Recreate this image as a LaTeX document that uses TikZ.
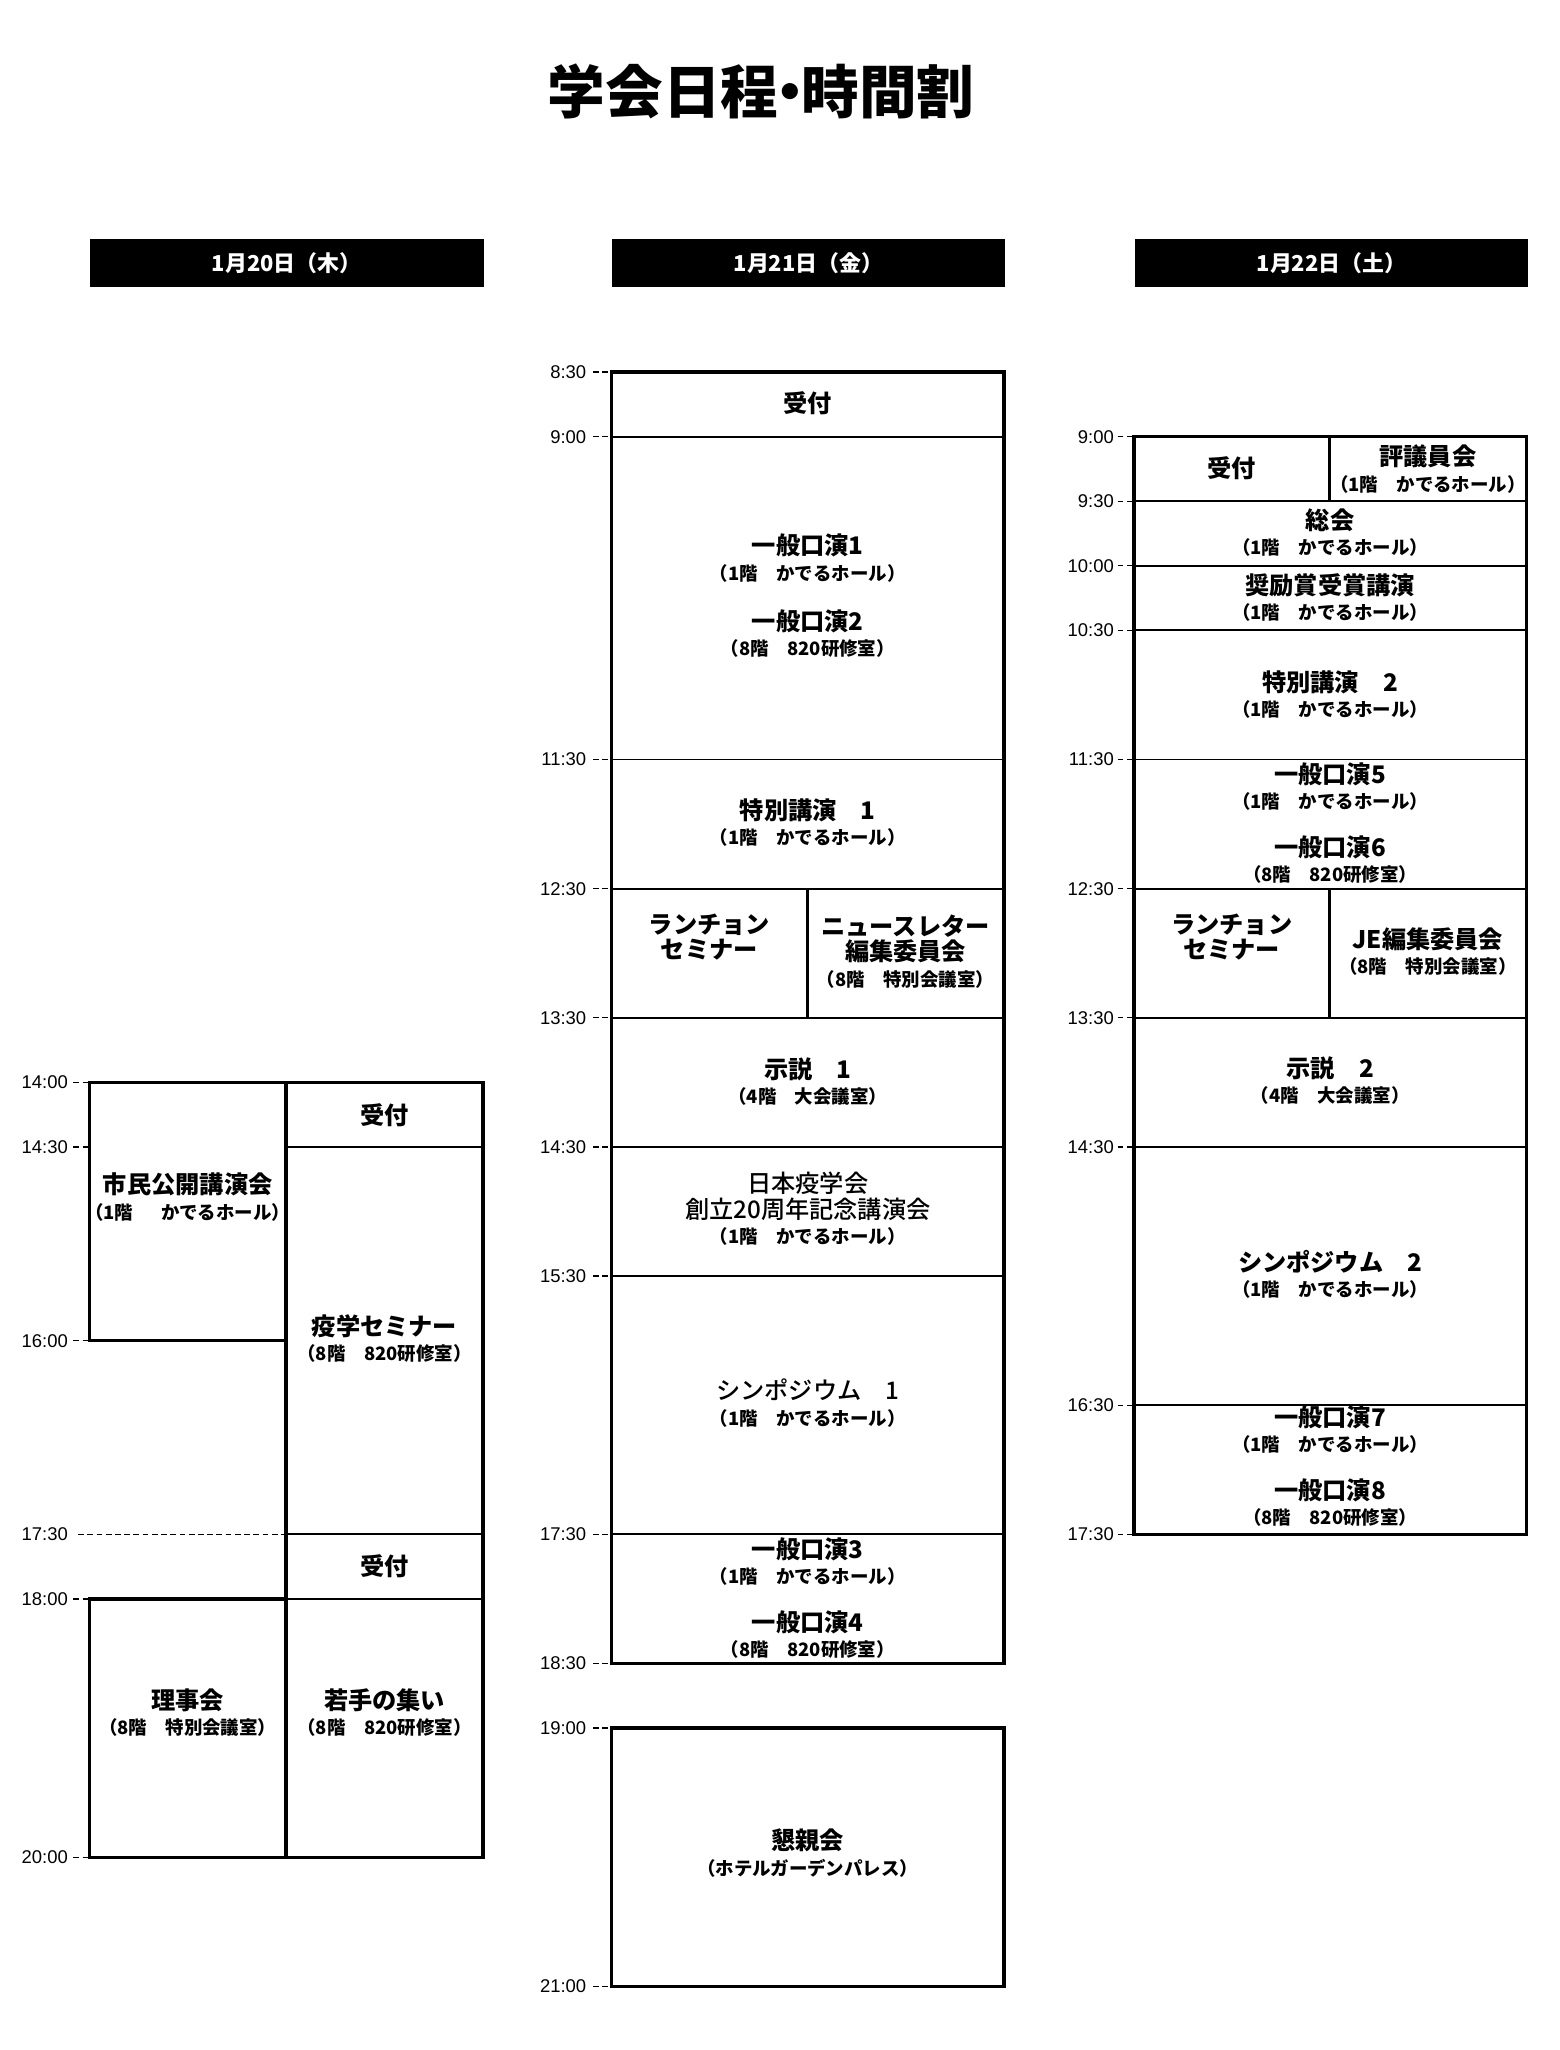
\documentclass[tikz,border=0pt]{standalone}
\usepackage{fontspec}
\setmainfont{Noto Sans CJK JP}
\newfontfamily\jpmed{Noto Sans CJK JP Medium}
\newfontfamily\timefont{Liberation Sans}
\usepackage{tikz}
\usetikzlibrary{positioning}

\pgfmathdeclarefunction{ty}{1}{\pgfmathparse{283.5+(#1-8.5)*98.4}}
\newcommand{\roomtxt}[1]{{\fontsize{8}{11}\selectfont #1}}

\tikzset{
  outer/.style={line width=1.4pt},
  cell/.style={line width=0.85pt},
  ev/.style={align=center, inner sep=0pt, font=\bfseries\fontsize{10.5}{11}\selectfont},
  dayhead/.style={fill=black, text=white, minimum width=60mm, minimum height=7.4mm, inner sep=0pt, font=\bfseries\fontsize{9.5}{10}\selectfont},
  tlabel/.style={anchor=east, inner sep=0pt, font=\timefont\fontsize{8}{9}\selectfont},
  tmdash/.style={dash pattern=on 2.5pt off 1.5pt, line width=0.6pt}
}

\begin{document}
\begin{tikzpicture}[x=0.2mm,y=-0.2mm]
  \useasboundingbox (0,0) rectangle (1188,1562);

  % title and days
  \node[font=\bfseries\fontsize{25}{27}\selectfont] (title) at (580,70) {学会日程\hspace{-0.3em}・\hspace{-0.3em}時間割};
  \node[dayhead] (day20) at (218.5,200.5) {1月20日（木）};
  \node[dayhead] (day21) at (616,200.5) {1月21日（金）};
  \node[dayhead] (day22) at (1014.5,200.5) {1月22日（土）};

  % time scales
  \foreach \t/\s [count=\i] in {14/14:00,14.5/14:30,16/16:00,18/18:00,20/20:00}{
    \node[tlabel] (lt\i) at (52,{ty(\t)}) {\s};
    \draw[tmdash] ([xshift=0.8mm]lt\i.east) -- (68,{ty(\t)});
  }
  \node[tlabel] (lt6) at (52,{ty(17.5)}) {17:30};
  \draw[tmdash] ([xshift=1.5mm]lt6.east) -- (218,{ty(17.5)});
  \foreach \t/\s [count=\i] in {8.5/8:30,9/9:00,11.5/11:30,12.5/12:30,13.5/13:30,14.5/14:30,15.5/15:30,17.5/17:30,18.5/18:30,19/19:00,21/21:00}{
    \node[tlabel] (mt\i) at (447,{ty(\t)}) {\s};
    \draw[tmdash] ([xshift=1mm]mt\i.east) -- (466,{ty(\t)});
  }
  \foreach \t/\s [count=\i] in {9/9:00,9.5/9:30,10/10:00,10.5/10:30,11.5/11:30,12.5/12:30,13.5/13:30,14.5/14:30,16.5/16:30,17.5/17:30}{
    \node[tlabel] (rt\i) at (849,{ty(\t)}) {\s};
    \draw[tmdash] ([xshift=0.5mm]rt\i.east) -- (864,{ty(\t)});
  }

  % 1/20
  \foreach \t in {14.5,17.5,18}
    \draw[cell] (218,{ty(\t)}) -- (368,{ty(\t)});
  \draw[outer] (68,{ty(14)}) rectangle (218,{ty(16)});
  \draw[outer] (218,{ty(14)}) rectangle (368,{ty(20)});
  \draw[outer] (68,{ty(18)}) rectangle (218,{ty(20)});

  % 1/21
  \foreach \t in {9,11.5,12.5,13.5,14.5,15.5,17.5}
    \draw[cell] (466,{ty(\t)}) -- (765,{ty(\t)});
  \draw[outer] (615,{ty(12.5)}) -- (615,{ty(13.5)});
  \draw[outer] (466,{ty(8.5)}) rectangle (765,{ty(18.5)});
  \draw[outer] (466,{ty(19)}) rectangle (765,{ty(21)});

  % 1/22
  \foreach \t in {9.5,10,10.5,11.5,12.5,13.5,14.5,16.5}
    \draw[cell] (864,{ty(\t)}) -- (1163,{ty(\t)});
  \draw[outer] (1013,{ty(9)}) -- (1013,{ty(9.5)});
  \draw[outer] (1013,{ty(12.5)}) -- (1013,{ty(13.5)});
  \draw[outer] (864,{ty(9)}) rectangle (1163,{ty(17.5)});

  % events 1/20
  \node[ev] (shimin) at (143,912) {市民公開講演会\\\roomtxt{（1階\hspace{1.5em}かでるホール）}};
  \node[ev] (uketsuke1) at (293,850) {受付};
  \node[ev] (ekisemi) at (293,1020) {疫学セミナー\\\roomtxt{（8階　820研修室）}};
  \node[ev] (uketsuke2) at (293,1193) {受付};
  \node[ev] (rijikai) at (143,1305) {理事会\\\roomtxt{（8階　特別会議室）}};
  \node[ev] (wakate) at (293,1305) {若手の集い\\\roomtxt{（8階　820研修室）}};

  % events 1/21
  \node[ev] (uketsuke3) at (615.5,307) {受付};
  \node[ev] (kouen12) at (615.5,454) {一般口演1\\\roomtxt{（1階　かでるホール）}\\[3.8mm]一般口演2\\\roomtxt{（8階　820研修室）}};
  \node[ev] (tokubetsu1) at (615.5,627) {特別講演　1\\\roomtxt{（1階　かでるホール）}};
  \node[ev] (lunch1) at (540.5,714) {ランチョン\\セミナー};
  \node[ev] (news) at (690,725) {ニュースレター\\編集委員会\\\roomtxt{（8階　特別会議室）}};
  \node[ev] (poster1) at (615.5,824) {示説　1\\\roomtxt{（4階　大会議室）}};
  \node[ev] (kinen) at (615.5,921) {\jpmed\mdseries 日本疫学会\\\jpmed\mdseries 創立20周年記念講演会\\\roomtxt{（1階　かでるホール）}};
  \node[ev] (symp1) at (615.5,1069) {\jpmed\mdseries シンポジウム　1\\\roomtxt{（1階　かでるホール）}};
  \node[ev] (kouen34) at (615.5,1217.5) {一般口演3\\\roomtxt{（1階　かでるホール）}\\[3.4mm]一般口演4\\\roomtxt{（8階　820研修室）}};
  \node[ev] (konshin) at (615.5,1412) {懇親会\\\roomtxt{（ホテルガーデンパレス）}};

  % events 1/22
  \node[ev] (uketsuke4) at (938.5,357) {受付};
  \node[ev] (hyogi) at (1088,357.5) {評議員会\\\roomtxt{（1階　かでるホール）}};
  \node[ev] (sokai) at (1013.5,406) {総会\\\roomtxt{（1階　かでるホール）}};
  \node[ev] (shorei) at (1013.5,455.5) {奨励賞受賞講演\\\roomtxt{（1階　かでるホール）}};
  \node[ev] (tokubetsu2) at (1013.5,529) {特別講演　2\\\roomtxt{（1階　かでるホール）}};
  \node[ev] (kouen56) at (1013.5,627) {一般口演5\\\roomtxt{（1階　かでるホール）}\\[3.4mm]一般口演6\\\roomtxt{（8階　820研修室）}};
  \node[ev] (lunch2) at (938.5,714) {ランチョン\\セミナー};
  \node[ev] (je) at (1088,725) {JE編集委員会\\\roomtxt{（8階　特別会議室）}};
  \node[ev] (poster2) at (1013.5,823.5) {示説　2\\\roomtxt{（4階　大会議室）}};
  \node[ev] (symp2) at (1013.5,971) {シンポジウム　2\\\roomtxt{（1階　かでるホール）}};
  \node[ev] (kouen78) at (1013.5,1117) {一般口演7\\\roomtxt{（1階　かでるホール）}\\[3.4mm]一般口演8\\\roomtxt{（8階　820研修室）}};
\end{tikzpicture}
\end{document}
